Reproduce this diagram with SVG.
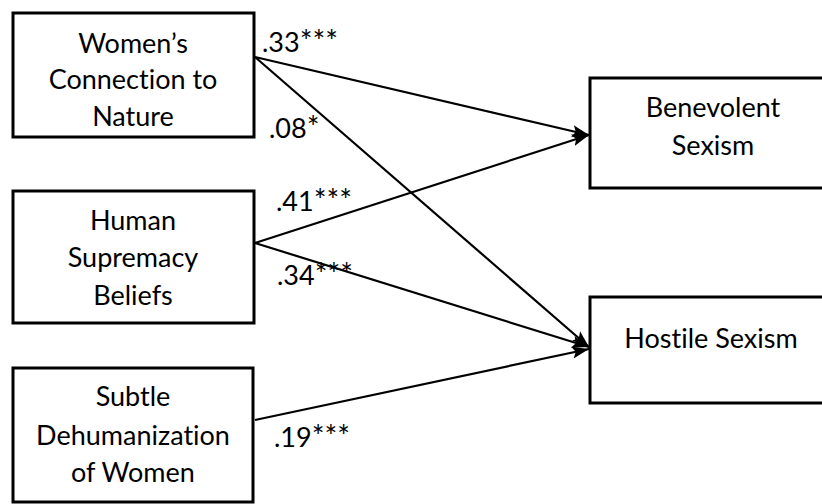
<svg xmlns="http://www.w3.org/2000/svg" width="822" height="504" viewBox="0 0 822 504">
<style>
.box{fill:#fff;stroke:#000;stroke-width:3}
.t{font-family:Lato,"Open Sans","Liberation Sans",sans-serif;font-size:27px;fill:#000;text-anchor:middle;font-variant-ligatures:none}
.l{font-family:Lato,"Open Sans","Liberation Sans",sans-serif;font-size:27px;fill:#000;font-variant-ligatures:none}
.s{font-size:30px}
.c{stroke:#000;stroke-width:2.2;fill:none;marker-end:url(#ah)}
</style>
<defs>
<marker id="ah" markerUnits="userSpaceOnUse" markerWidth="18" markerHeight="14" viewBox="0 0 18 14" refX="17" refY="7" orient="auto">
<path d="M0,1 L17,7 L0,13 L3.5,7 Z" fill="#000"/>
</marker>
</defs>
<rect width="822" height="504" fill="#fff"/>
<g id="connectors">
<line class="c" x1="255" y1="57" x2="589" y2="135"/>
<line class="c" x1="255" y1="57" x2="589" y2="347"/>
<line class="c" x1="255" y1="243" x2="589" y2="135"/>
<line class="c" x1="255" y1="243" x2="589" y2="347"/>
<line class="c" x1="255" y1="420" x2="589" y2="349"/>
</g>
<g id="wcn">
<rect class="box" x="13" y="13" width="241" height="124"/>
<text class="t" x="133" y="53">Women’s</text>
<text class="t" x="133" y="89">Connection to</text>
<text class="t" x="133" y="126">Nature</text>
</g>
<g id="hsb">
<rect class="box" x="13" y="191" width="241" height="132"/>
<text class="t" x="133" y="230">Human</text>
<text class="t" x="133" y="267">Supremacy</text>
<text class="t" x="133" y="305">Beliefs</text>
</g>
<g id="sdw">
<rect class="box" x="13" y="368" width="240" height="134"/>
<text class="t" x="133" y="406">Subtle</text>
<text class="t" x="133" y="445">Dehumanization</text>
<text class="t" x="133" y="482">of Women</text>
</g>
<g id="bs">
<rect class="box" x="590" y="78" width="240" height="110"/>
<text class="t" x="713" y="117">Benevolent</text>
<text class="t" x="713" y="155">Sexism</text>
</g>
<g id="hs">
<rect class="box" x="590" y="297" width="240" height="106"/>
<text class="t" x="711" y="348">Hostile Sexism</text>
</g>
<g id="labels">
<text class="l" x="262" y="52">.33<tspan class="s">***</tspan></text>
<text class="l" x="269" y="138">.08<tspan class="s">*</tspan></text>
<text class="l" x="276" y="211">.41<tspan class="s">***</tspan></text>
<text class="l" x="277" y="285">.34<tspan class="s">***</tspan></text>
<text class="l" x="274" y="447">.19<tspan class="s">***</tspan></text>
</g>
</svg>
